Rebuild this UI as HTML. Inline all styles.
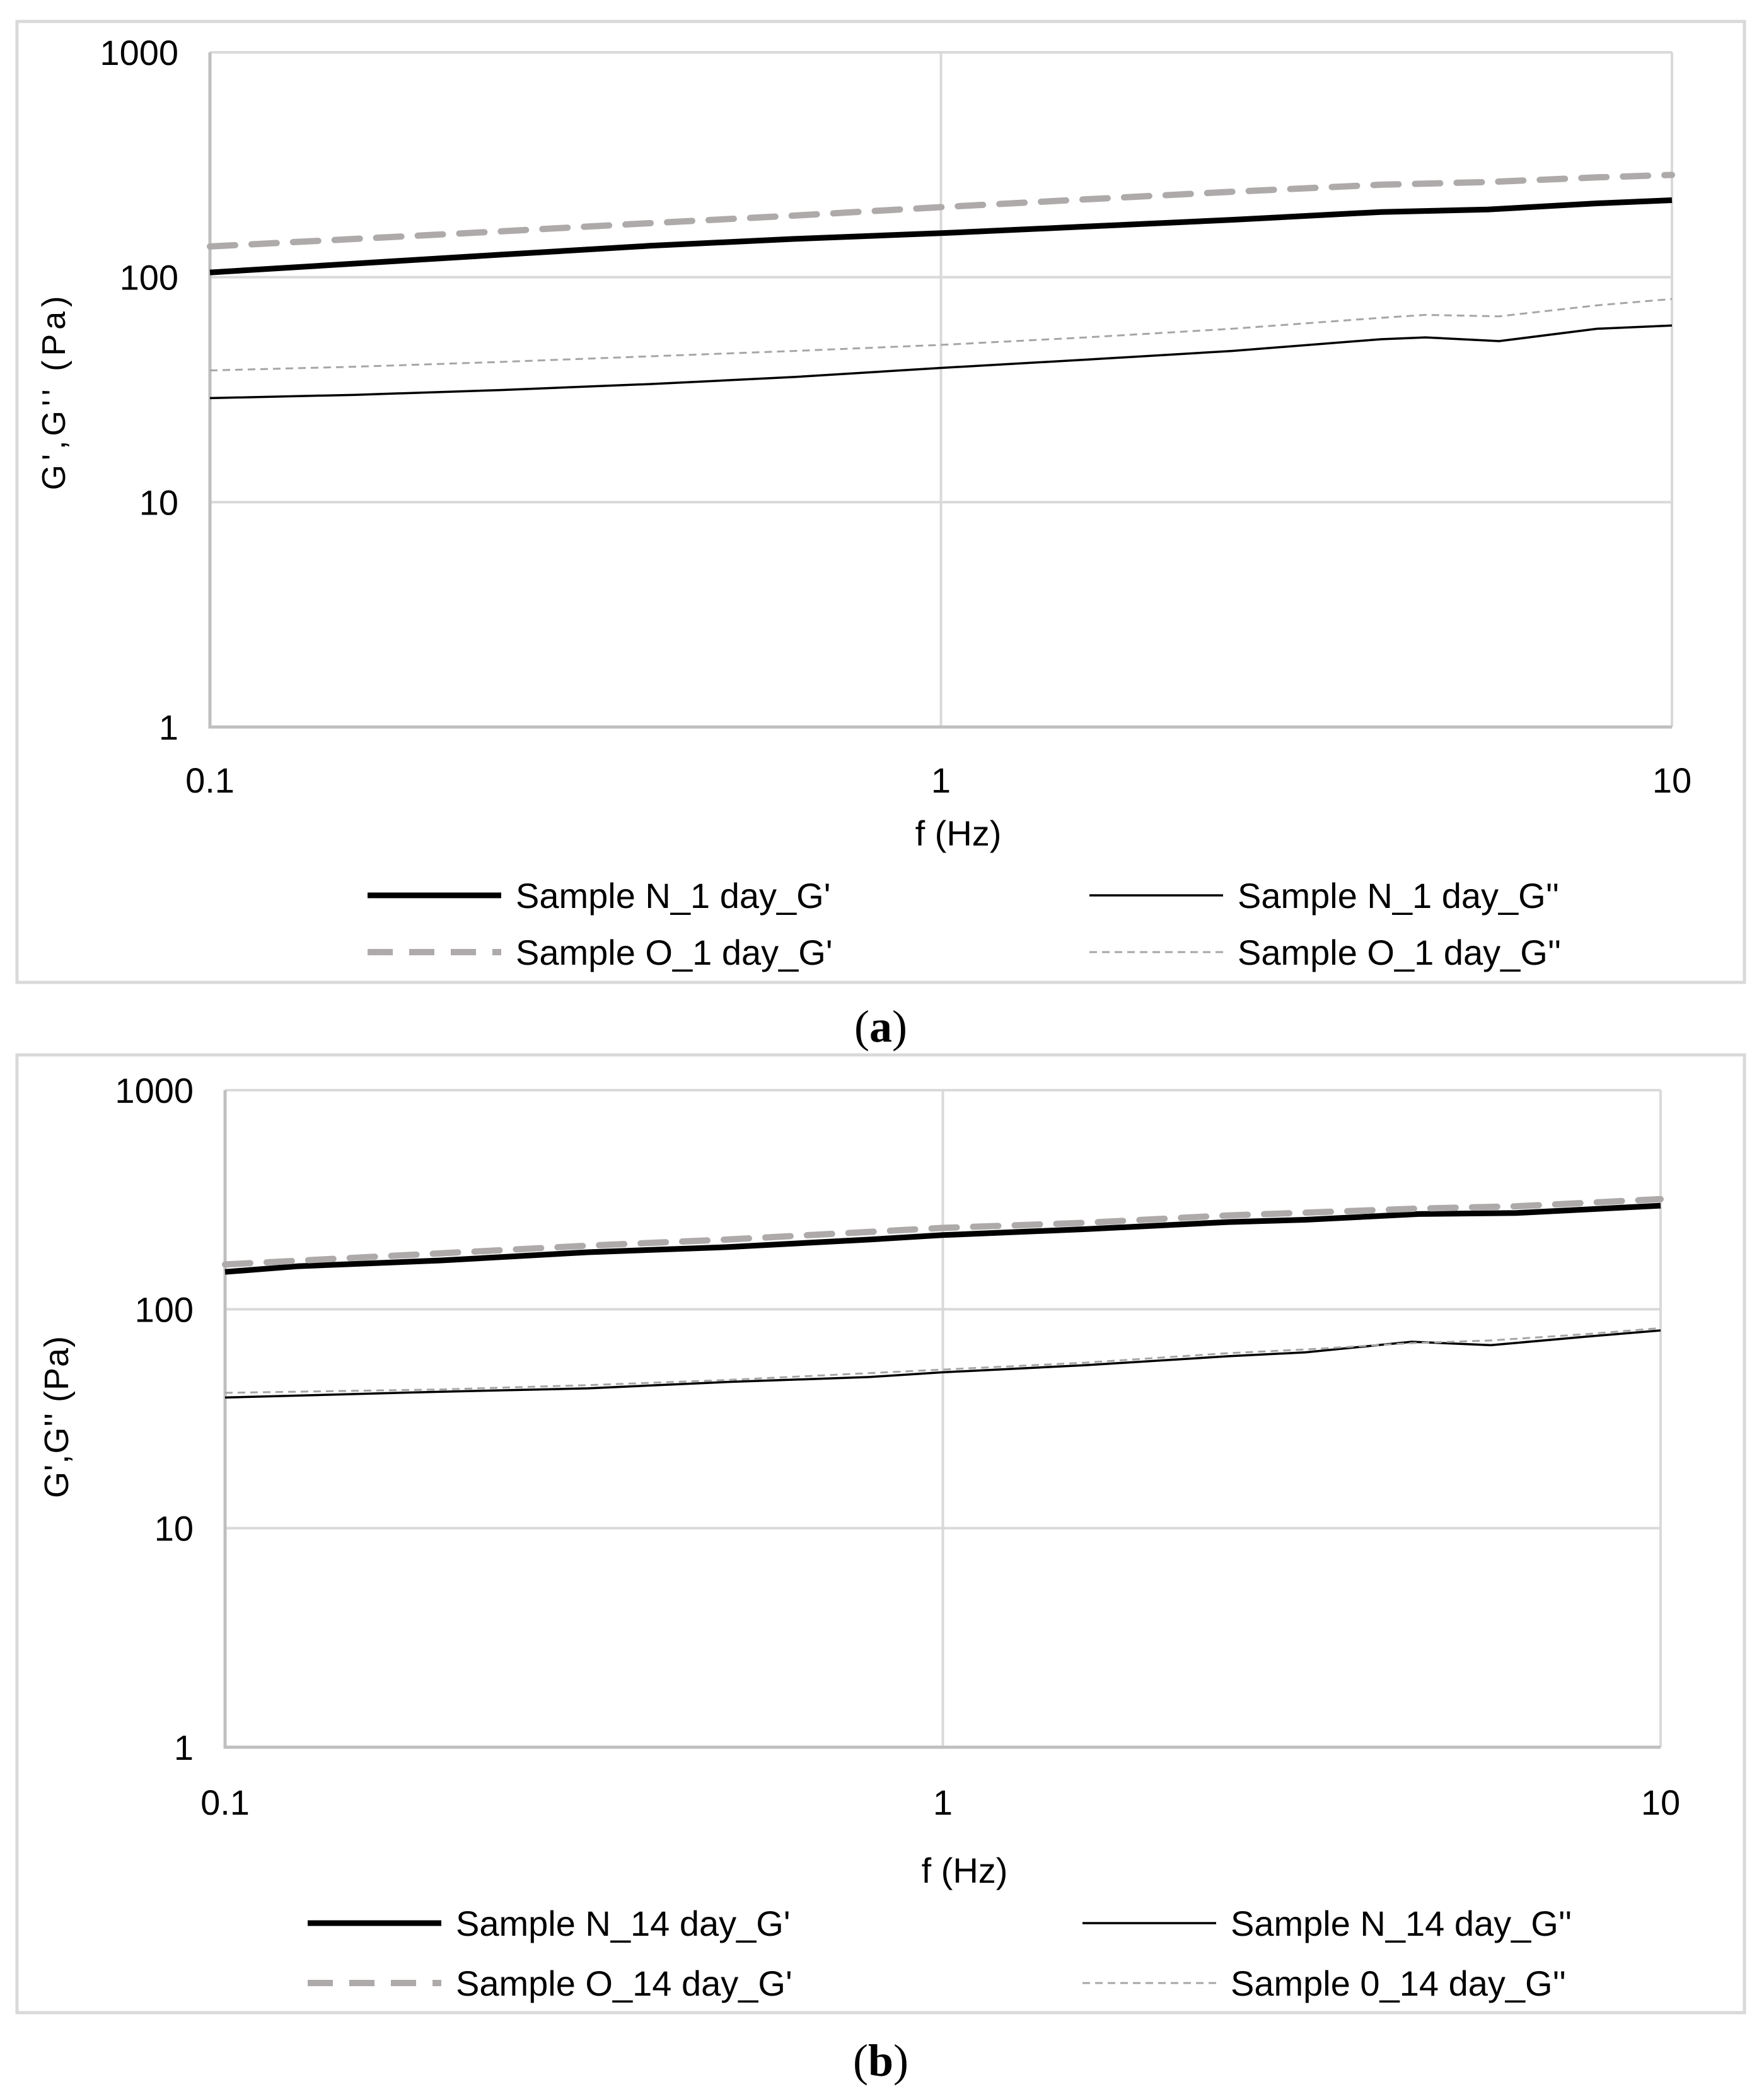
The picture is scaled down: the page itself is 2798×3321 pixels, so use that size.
<!DOCTYPE html>
<html><head><meta charset="utf-8">
<style>
html,body{margin:0;padding:0;background:#fff;}
svg{display:block;}
text{font-family:"Liberation Sans",sans-serif;fill:#000;}
</style></head>
<body>
<svg id="fig" width="2798" height="3321" viewBox="0 0 2798 3321" xmlns="http://www.w3.org/2000/svg"></svg>
<script>
// ---- Panel (a) data ----
const aX_NGp = [0.1,0.158,0.25,0.4,0.63,1,1.58,2.5,4,5.6,7.9,10];
const aY_NGp = [105,115,126,138,148,157,168,180,195,200,213,220];
const aX_OGp = [0.1,0.158,0.25,0.4,0.63,1,1.58,2.5,4,5.6,7.9,10];
const aY_OGp = [137,148,160,174,188,205,222,240,258,265,278,285];
const aX_NGpp = [0.1,0.158,0.25,0.4,0.63,1,1.58,2.5,4,4.6,5.8,7.9,10];
const aY_NGpp = [29,30,31.5,33.5,36,39.5,43,47,53,54,52,59,61];
const aX_OGpp = [0.1,0.158,0.25,0.4,0.63,1,1.58,2.5,4,4.6,5.8,7.9,10];
const aY_OGpp = [38.5,40,42,44.5,47,50,54,59,66,68,67,75,80];
// ---- Panel (b) data ----
const bX_NGp = [0.1,0.126,0.2,0.32,0.5,0.79,1,1.58,2.5,3.2,4.6,6.3,10];
const bY_NGp = [148,157,167,182,192,208,218,232,250,256,272,275,297];
const bX_OGp = [0.1,0.2,0.32,0.5,1,1.58,2.5,4.6,6.3,10];
const bY_OGp = [160,180,195,208,235,248,268,288,295,318];
const bX_NGpp = [0.1,0.2,0.32,0.5,0.79,1,1.58,2.5,3.2,4.5,5.8,7.9,10];
const bY_NGpp = [39.5,42,43.5,46.5,49,51.5,55.5,61,63.5,71,68.5,75,80];
const bX_OGpp = [0.1,0.2,0.32,0.5,1,1.58,2.5,3.2,4.5,5.8,7.9,10];
const bY_OGpp = [41.5,43,45,47.5,53,57,63,65.5,70,72,77,82];
// ticks
const xTicks = [0.1,1,10];
const xTickLabels = ["0.1","1","10"];
const yTicks = [1,10,100,1000];
const yTickLabels = ["1","10","100","1000"];
const aLegend = ["Sample N_1 day_G'","Sample N_1 day_G''","Sample O_1 day_G'","Sample O_1 day_G''"];
const bLegend = ["Sample N_14 day_G'","Sample N_14 day_G''","Sample O_14 day_G'","Sample 0_14 day_G''"];

const NS="http://www.w3.org/2000/svg";
const svg=document.getElementById('fig');
function mk(tag,attrs,parent){const e=document.createElementNS(NS,tag);for(const k in attrs)e.setAttribute(k,attrs[k]);(parent||svg).appendChild(e);return e;}

const styles=[
 {stroke:"#000",w:9,dash:null},
 {stroke:"#000",w:3.5,dash:null},
 {stroke:"#aeaaaa",w:10,dash:"40 26"},
 {stroke:"#a6a6a6",w:3,dash:"12 8"}
];

function panel(cfg){
  const g=mk('g',{});
  
  
  const box=mk('rect',{x:cfg.box[0],y:cfg.box[1],width:cfg.box[2]-cfg.box[0],height:cfg.box[3]-cfg.box[1],fill:'none',stroke:'#d9d9d9','stroke-width':5},g);
  
  
  const L=cfg.L,R=cfg.R,T=cfg.T,B=cfg.B;
  const xs=v=>L+(Math.log10(v)+1)/2*(R-L);
  const ys=v=>B-Math.log10(v)/3*(B-T);
  yTicks.forEach((t,i)=>{
    if(i>0){const l=mk('line',{x1:L,x2:R,y1:ys(t),y2:ys(t),stroke:'#d9d9d9','stroke-width':4},g);
    
    }
    const tx=mk('text',{x:L-50,y:ys(t)+20,'text-anchor':'end','font-size':56},g);
    tx.textContent=yTickLabels[i];
    
    
  });
  xTicks.forEach((t,i)=>{
    if(i>0){const l=mk('line',{x1:xs(t),x2:xs(t),y1:T,y2:B,stroke:'#d9d9d9','stroke-width':4},g);
    
    }
    const tx=mk('text',{x:xs(t),y:cfg.xLabY,'text-anchor':'middle','font-size':56},g);
    tx.textContent=xTickLabels[i];
    
    
  });
  const ax=mk('path',{d:`M${L},${T} L${L},${B} L${R},${B}`,fill:'none',stroke:'#bfbfbf','stroke-width':5},g);
  
  
  cfg.series.forEach((s,i)=>{
    const st=styles[i];
    const d=s.x.map((x,j)=>(j?'L':'M')+xs(x).toFixed(1)+','+ys(s.y[j]).toFixed(1)).join(' ');
    const p=mk('path',{d:d,fill:'none',stroke:st.stroke,'stroke-width':st.w,'stroke-linejoin':'round'},g);
    if(st.dash)p.setAttribute('stroke-dasharray',st.dash);
    if(i===2)p.setAttribute('stroke-linecap','round');
    
    
  });
  const xt=mk('text',{x:cfg.xTitle[0],y:cfg.xTitle[1],'text-anchor':'middle','font-size':56},g);
  xt.textContent='f (Hz)';
  
  
  const yt=mk('text',{x:0,y:0,'text-anchor':'middle','font-size':cfg.ySize,'letter-spacing':cfg.ySpace,transform:`translate(${cfg.yTitle[0]},${cfg.yTitle[1]}) rotate(-90)`},g);
  yt.textContent="G',G'' (Pa)";
  
  
  const cols=cfg.legCols, rows=cfg.legRows;
  [[0,0],[1,0],[0,1],[1,1]].forEach((cr,k)=>{
    const st=styles[k];
    const lx=cols[cr[0]], ly=rows[cr[1]];
    const lg=mk('g',{},g);
    
    
    const ln=mk('line',{x1:lx,x2:lx+212,y1:ly,y2:ly,stroke:st.stroke,'stroke-width':st.w},lg);
    if(st.dash)ln.setAttribute('stroke-dasharray',st.dash);
    const t=mk('text',{x:lx+235,y:ly+20,'font-size':56},lg);
    t.textContent=cfg.legend[k];
  });
  const cap=mk('text',{x:cfg.cap[0],y:cfg.cap[1],'text-anchor':'middle','font-size':72,style:'font-family:"Liberation Serif",serif'},g);
  cap.innerHTML=cfg.capText;
  
  
}

panel({name:'chart-a',box:[27,34,2767,1558],L:333,R:2652,T:83,B:1153,xLabY:1257,
  xTitle:[1520,1341],yTitle:[103,620],ySize:52,ySpace:7,legCols:[583,1728],legRows:[1420,1510],legend:aLegend,
  cap:[1397,1652],capText:'(<tspan font-weight="bold">a</tspan>)',
  series:[{x:aX_NGp,y:aY_NGp,name:'series-n-1day-gprime'},{x:aX_NGpp,y:aY_NGpp,name:'series-n-1day-gdoubleprime'},
          {x:aX_OGp,y:aY_OGp,name:'series-o-1day-gprime'},{x:aX_OGpp,y:aY_OGpp,name:'series-o-1day-gdoubleprime'}]});
panel({name:'chart-b',box:[27,1673,2767,3192],L:357,R:2634,T:1729,B:2771,xLabY:2878,
  xTitle:[1530,2986],yTitle:[108,2247],ySize:54,ySpace:1,legCols:[488,1717],legRows:[3050,3145],legend:bLegend,
  cap:[1397,3292],capText:'(<tspan font-weight="bold">b</tspan>)',
  series:[{x:bX_NGp,y:bY_NGp,name:'series-n-14day-gprime'},{x:bX_NGpp,y:bY_NGpp,name:'series-n-14day-gdoubleprime'},
          {x:bX_OGp,y:bY_OGp,name:'series-o-14day-gprime'},{x:bX_OGpp,y:bY_OGpp,name:'series-o-14day-gdoubleprime'}]});
</script>
</body></html>
